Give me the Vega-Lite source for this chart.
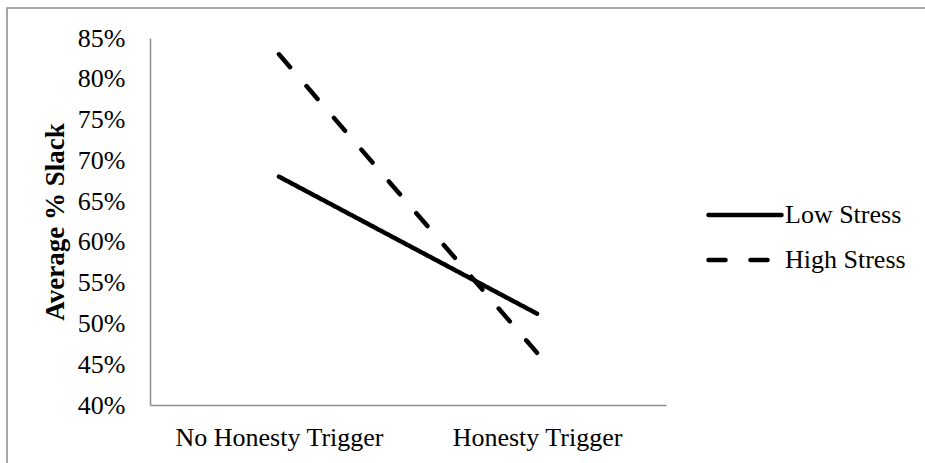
{
  "$schema": "https://vega.github.io/schema/vega-lite/v6.json",
  "autosize": "none",
  "width": 918,
  "height": 455,
  "padding": {"left": 7, "top": 8, "right": 0, "bottom": 0},
  "background": "white",
  "config": {
    "font": "Liberation Serif",
    "view": {"stroke": "#8c8c8c", "strokeWidth": 1.5, "strokeDash": [918, 1373, 455]},
    "axis": {
      "labelFont": "Liberation Serif",
      "labelFontSize": 26,
      "labelColor": "black",
      "labelLimit": 0,
      "titleFont": "Liberation Serif",
      "titleColor": "black",
      "domainColor": "#8c8c8c",
      "domainWidth": 1.5,
      "grid": false,
      "ticks": false,
      "tickSize": 0
    },
    "legend": {
      "labelFont": "Liberation Serif",
      "labelFontSize": 26,
      "labelColor": "black",
      "labelLimit": 0
    }
  },
  "data": {
    "values": [
      {"trigger": "No Honesty Trigger", "stress": "Low Stress", "slack": 0.68},
      {"trigger": "Honesty Trigger", "stress": "Low Stress", "slack": 0.512},
      {"trigger": "No Honesty Trigger", "stress": "High Stress", "slack": 0.83},
      {"trigger": "Honesty Trigger", "stress": "High Stress", "slack": 0.464}
    ]
  },
  "mark": {"type": "line", "color": "black", "strokeWidth": 4.5, "strokeCap": "round"},
  "encoding": {
    "x": {
      "field": "trigger",
      "type": "nominal",
      "sort": ["No Honesty Trigger", "Honesty Trigger"],
      "scale": {"type": "point", "padding": 0.5, "range": [143, 659]},
      "axis": {"title": null, "orient": "bottom", "offset": -58, "labelAngle": 0, "labelPadding": 19, "labelLimit": 0}
    },
    "y": {
      "field": "slack",
      "type": "quantitative",
      "scale": {"domain": [0.4, 0.85], "range": [397, 30], "nice": false, "zero": false},
      "axis": {
        "title": "Average % Slack",
        "titleFontSize": 27,
        "titleFontWeight": "bold",
        "titlePadding": 8,
        "orient": "left",
        "offset": -143,
        "format": ".0%",
        "values": [0.4, 0.45, 0.5, 0.55, 0.6, 0.65, 0.7, 0.75, 0.8, 0.85],
        "labelPadding": 25
      }
    },
    "strokeDash": {
      "field": "stress",
      "type": "nominal",
      "sort": ["Low Stress", "High Stress"],
      "scale": {"domain": ["Low Stress", "High Stress"], "range": [[1, 0], [17, 25]]},
      "legend": {
        "title": null,
        "orient": "none",
        "legendX": 725,
        "legendY": 194,
        "padding": 0,
        "symbolType": "M-4,0H4",
        "symbolSize": 333,
        "symbolStrokeWidth": 4.5,
        "symbolStrokeColor": "black",
        "labelOffset": 27,
        "rowPadding": 19,
        "encode": {"symbols": {"enter": {"strokeCap": {"value": "round"}}, "update": {"strokeCap": {"value": "round"}}}}
      }
    }
  }
}
